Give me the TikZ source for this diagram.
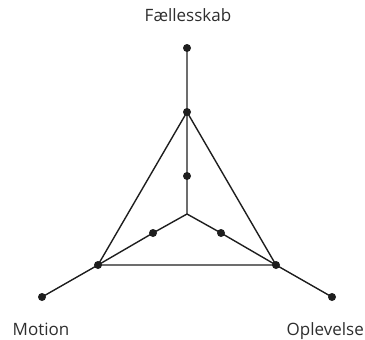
\documentclass[tikz,border=0pt]{standalone}
\usepackage{fontspec}
\setmainfont{Open Sans}
\definecolor{ink}{HTML}{1E1E1E}
\definecolor{txt}{HTML}{2E2E2E}
\begin{document}
\begin{tikzpicture}[x=1pt,y=-1pt,
  dot/.style={circle,fill=ink,inner sep=0pt,minimum size=8pt},
  edge/.style={draw=ink,line width=1.4pt},
  lbl/.style={text=txt,font=\fontsize{17}{20}\selectfont,inner sep=0pt,anchor=base}]
\useasboundingbox (0,0) rectangle (365,340);
\node[dot] (top) at (187,48) {};
\node[dot] (A) at (187,112) {};
\node[dot] (mid) at (187,176) {};
\coordinate (C) at (187,214);
\node[dot] (li) at (153,233) {};
\node[dot] (ri) at (221,233) {};
\node[dot] (L) at (98,265) {};
\node[dot] (R) at (276,265) {};
\node[dot] (lo) at (42,297) {};
\node[dot] (ro) at (332,297) {};
\draw[edge] (top.center) -- (A.center) -- (mid.center) -- (C) -- (li.center) -- (L.center) -- (lo.center);
\draw[edge] (C) -- (ri.center) -- (R.center) -- (ro.center);
\draw[edge] (A.center) -- (L.center) -- (R.center) -- cycle;
\node[lbl] (t1) at (188,22) {Fællesskab};
\node[lbl] (t2) at (41,335) {Motion};
\node[lbl,anchor=base east] (t3) at (364,335) {Oplevelse};
\end{tikzpicture}
\end{document}
